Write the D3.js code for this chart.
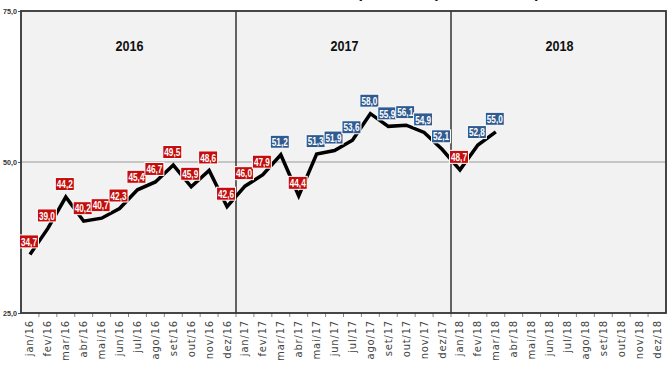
<!DOCTYPE html>
<html>
<head>
<meta charset="utf-8">
<script src="https://cdn.jsdelivr.net/npm/d3@7"></script>
<style>
  body { margin: 0; background: #fff; }
  svg { display: block; }
  .lbl { font-family: "Liberation Sans", Arial, sans-serif; font-weight: bold; }
</style>
</head>
<body>
<div class="chart"></div>
<script>
// Monthly index, jan/16 to dez/18 (values only up to mar/18)

var months = ["jan", "fev", "mar", "abr", "mai", "jun", "jul", "ago", "set", "out", "nov", "dez"];
var years = ["2016", "2017", "2018"];
var values2016 = [34.7, 39.0, 44.2, 40.2, 40.7, 42.3, 45.4, 46.7, 49.5, 45.9, 48.6, 42.6];
var values2017 = [46.0, 47.9, 51.2, 44.4, 51.3, 51.9, 53.6, 58.0, 55.9, 56.1, 54.9, 52.1];
var values2018 = [48.7, 52.8, 55.0];
var yTicks = [25, 50, 75];

var svgwidth = 672;
var svgheight = 372;
var margin = { top: 11, right: 6, bottom: 59, left: 21 };
var width = svgwidth - margin.left - margin.right;
var height = svgheight - margin.top - margin.bottom;

// categories: "jan/16" ... "dez/18"
var categories = [];
years.forEach(function(y) {
    months.forEach(function(m) { categories.push(m + "/" + y.slice(2)); });
});

var data = values2016.concat(values2017, values2018).map(function(v, i) {
    return { cat: categories[i], value: v };
});

var fmt = d => d3.format(".1f")(d).replace(".", ",");

var svg = d3.select(".chart")
    .append("svg")
    .attr("width", svgwidth)
    .attr("height", svgheight);

// title, cut off at the top of the picture (only descenders show)
svg.append("text")
    .attr("x", 540)
    .attr("y", -2)
    .attr("text-anchor", "end")
    .attr("font-family", "Liberation Sans, Arial, sans-serif")
    .attr("font-weight", "bold")
    .attr("font-size", 16)
    .attr("fill", "#111")
    .text("Índice de Expectativa (média móvel)");

var chartGroup = svg.append("g")
    .attr("transform", `translate(${margin.left}, ${margin.top})`);

var xScale = d3.scaleBand()
    .domain(categories)
    .range([0, width]);

var yScale = d3.scaleLinear()
    .domain([25, 75])
    .range([height, 0]);

// background
chartGroup.append("rect")
    .attr("width", width)
    .attr("height", height)
    .attr("fill", "#f2f2f2");

// gridline at 50
chartGroup.append("line")
    .attr("x1", 0).attr("x2", width)
    .attr("y1", yScale(50)).attr("y2", yScale(50))
    .attr("stroke", "#9a9a9a")
    .attr("stroke-width", 1);

// year dividers
years.slice(1).forEach(function(y) {
    var x = xScale("jan/" + y.slice(2));
    chartGroup.append("line")
        .attr("x1", x).attr("x2", x)
        .attr("y1", 0).attr("y2", height)
        .attr("stroke", "#333")
        .attr("stroke-width", 1.5);
});

// year labels
years.forEach(function(y) {
    var x0 = xScale("jan/" + y.slice(2));
    var x1 = xScale("dez/" + y.slice(2)) + xScale.bandwidth();
    chartGroup.append("text")
        .attr("x", (x0 + x1) / 2 + 1)
        .attr("y", 40)
        .attr("text-anchor", "middle")
        .attr("font-family", "Liberation Sans, Arial, sans-serif")
        .attr("font-weight", "bold")
        .attr("font-size", 15)
        .attr("textLength", 28)
        .attr("lengthAdjust", "spacingAndGlyphs")
        .attr("fill", "#111")
        .text(y);
});

// x axis
var bottomAxis = d3.axisBottom(xScale).tickSize(0).tickSizeOuter(0);
var xAxis = chartGroup.append("g")
    .attr("transform", `translate(0, ${height})`)
    .call(bottomAxis);
xAxis.select(".domain").remove();
xAxis.selectAll("text")
    .attr("transform", "rotate(-90)")
    .attr("text-anchor", "end")
    .attr("x", -7)
    .attr("y", 0)
    .attr("dy", "0.35em")
    .attr("font-family", "DejaVu Sans, sans-serif")
    .attr("font-size", 10)
    .attr("letter-spacing", 0.8)
    .attr("fill", "#444");

// small ticks between months
chartGroup.selectAll(".mtick")
    .data(categories.slice(1))
    .enter()
    .append("line")
    .attr("class", "mtick")
    .attr("x1", d => xScale(d)).attr("x2", d => xScale(d))
    .attr("y1", height).attr("y2", height + 4)
    .attr("stroke", "#888");

// y axis labels
var leftAxis = d3.axisLeft(yScale)
    .tickValues(yTicks)
    .tickSize(3)
    .tickFormat(fmt);
var yAxis = chartGroup.append("g").call(leftAxis);
yAxis.select(".domain").remove();
yAxis.selectAll("line").attr("stroke", "#555");
yAxis.selectAll("text")
    .attr("class", "lbl")
    .attr("font-size", 8)
    .attr("textLength", 14)
    .attr("lengthAdjust", "spacingAndGlyphs")
    .attr("fill", "#333")
    .attr("x", -4);

// plot border
chartGroup.append("rect")
    .attr("width", width)
    .attr("height", height)
    .attr("fill", "none")
    .attr("stroke", "#333")
    .attr("stroke-width", 1.8);

// line
var line = d3.line()
    .x(d => xScale(d.cat) + xScale.bandwidth() / 2)
    .y(d => yScale(d.value));

chartGroup.append("path")
    .datum(data)
    .attr("d", line)
    .attr("fill", "none")
    .attr("stroke", "#000")
    .attr("stroke-width", 3.5)
    .attr("stroke-linejoin", "miter");

// value labels
var labelGroup = chartGroup.selectAll(".vlabel")
    .data(data)
    .enter()
    .append("g")
    .attr("class", "vlabel")
    .attr("transform", d => `translate(${xScale(d.cat) + xScale.bandwidth() / 2 - 1}, ${yScale(d.value) - 13})`);

labelGroup.append("rect")
    .attr("x", -9.5)
    .attr("y", -6.5)
    .attr("width", 19)
    .attr("height", 13)
    .attr("fill", d => d.value >= 50 ? "#2f5b91" : "#c40d0d")
    .attr("stroke", "#fff")
    .attr("stroke-width", 1);

labelGroup.append("text")
    .attr("class", "lbl")
    .attr("text-anchor", "middle")
    .attr("dy", "0.36em")
    .attr("font-size", 11.5)
    .attr("textLength", 16)
    .attr("lengthAdjust", "spacingAndGlyphs")
    .attr("fill", "#fff")
    .text(d => fmt(d.value));
</script>
</body>
</html>
